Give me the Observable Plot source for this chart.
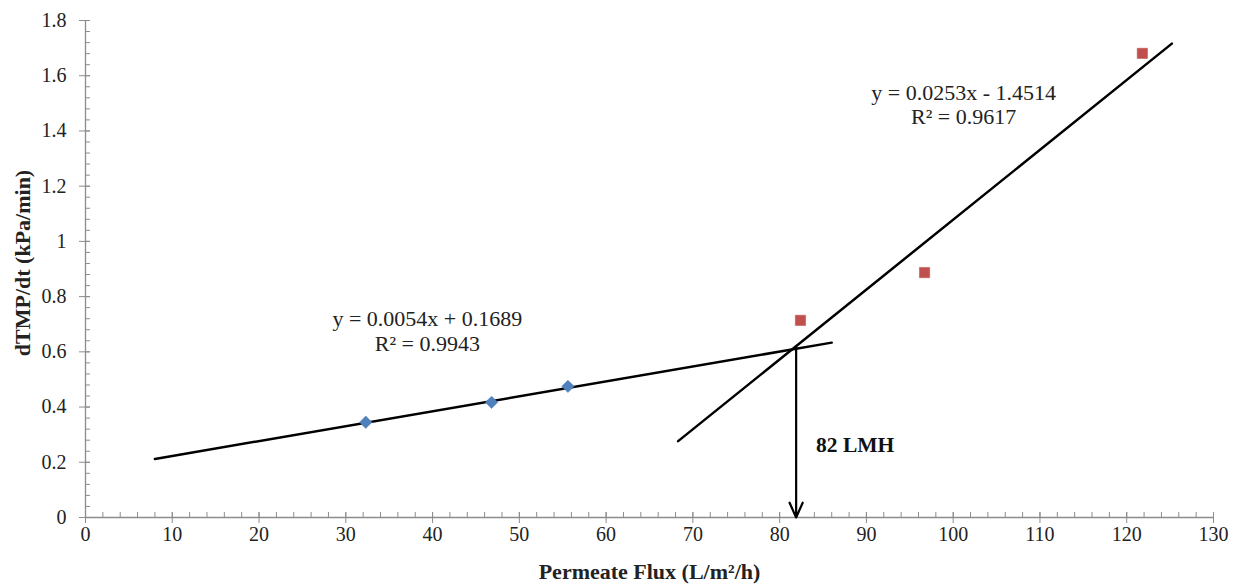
<!DOCTYPE html>
<html><head><meta charset="utf-8">
<script src="https://cdn.jsdelivr.net/npm/d3@7"></script>
<script src="https://cdn.jsdelivr.net/npm/@observablehq/plot@0.6"></script>
<style>
html,body{margin:0;padding:0;background:#fff;}
#chart svg{display:block;}
#chart svg text{font-family:'Liberation Serif','Times New Roman',serif;}
</style></head><body><div id="chart"></div>
<script>
// Series 1 (blue diamonds)
const flux1 = [32.3, 46.8, 55.6];
const dtmp1 = [0.345, 0.417, 0.475];
// Series 2 (red squares)
const flux2 = [82.4, 96.7, 121.8];
const dtmp2 = [0.714, 0.887, 1.681];
// Trend lines (slope, intercept, x-range)
const fit1 = {slope: 0.0054, intercept: 0.1689, x0: 8, x1: 86};
const fit2 = {slope: 0.0253, intercept: -1.4514, x0: 68.3, x1: 125.2};
const fitLabels = [
  {x: 39.4, y: 0.718, text: "y = 0.0054x + 0.1689"},
  {x: 39.4, y: 0.630, text: "R² = 0.9943"},
  {x: 101.2, y: 1.536, text: "y = 0.0253x - 1.4514"},
  {x: 101.2, y: 1.450, text: "R² = 0.9617"}
];
// Critical flux arrow
const critical = {x: 81.9, yTop: 0.62, label: "82 LMH", labelX: 84.2, labelY: 0.261};
// Axis ticks
const xMajor = d3.range(0, 131, 10);
const xMinor = d3.range(0, 131, 2);
const yMajor = [0, 0.2, 0.4, 0.6, 0.8, 1, 1.2, 1.4, 1.6, 1.8];
const yMinor = d3.range(0, 46).map(i => +(i * 0.04).toFixed(2));

const pts1 = flux1.map((x, i) => ({x, y: dtmp1[i]}));
const pts2 = flux2.map((x, i) => ({x, y: dtmp2[i]}));
const line = f => [f.x0, f.x1].map(x => ({x, y: f.slope * x + f.intercept}));

const axisColor = "#8c8c8c";
const font = "'Liberation Serif', 'Times New Roman', serif";

const chart = Plot.plot({
  width: 1247,
  height: 588,
  marginLeft: 85,
  marginRight: 34,
  marginTop: 20,
  marginBottom: 71,
  style: {fontFamily: font, fontSize: "19px", color: "#222", background: "#fff"},
  x: {domain: [0, 130], nice: false},
  y: {domain: [0, 1.8], nice: false},
  marks: [
    // axis lines
    Plot.ruleY([0], {stroke: axisColor, strokeWidth: 1.3}),
    Plot.ruleX([0], {stroke: axisColor, strokeWidth: 1.3}),
    // x ticks
    Plot.axisX({ticks: xMinor, tickSize: 5, dy: -5, text: null, label: null, stroke: axisColor}),
    Plot.axisX({ticks: xMajor, tickSize: 11, dy: -5, text: null, label: null, stroke: axisColor}),
    Plot.axisX({ticks: xMajor, tickSize: 0, tickPadding: 9, label: null, fill: "#222", fontSize: 20, fontFamily: font, tickFormat: d => String(d)}),
    // y ticks
    Plot.axisY({ticks: yMinor, tickSize: 5, dx: 5, text: null, label: null, stroke: axisColor}),
    Plot.axisY({ticks: yMajor, tickSize: 11, dx: 5, text: null, label: null, stroke: axisColor}),
    Plot.axisY({ticks: yMajor, tickSize: 0, tickPadding: 19, label: null, fill: "#222", fontSize: 20, fontFamily: font, tickFormat: d => String(+d.toFixed(1))}),
    // axis titles
    Plot.text(["Permeate Flux (L/m²/h)"], {frameAnchor: "bottom", dy: 61, fontWeight: "bold", fontSize: 22, fontFamily: font, fill: "#222"}),
    Plot.text(["dTMP/dt (kPa/min)"], {frameAnchor: "left", textAnchor: "middle", dx: -63, dy: -6, rotate: -90, fontWeight: "bold", fontSize: 22, fontFamily: font, fill: "#222"}),
    // trend lines
    Plot.line(line(fit1), {x: "x", y: "y", stroke: "#000", strokeWidth: 2.5}),
    Plot.line(line(fit2), {x: "x", y: "y", stroke: "#000", strokeWidth: 2.5}),
    // arrow
    Plot.arrow([critical], {x1: "x", x2: "x", y1: "yTop", y2: () => 0, stroke: "#000", strokeWidth: 2.2, headLength: 11, headAngle: 48, insetEnd: 0}),
    Plot.text([critical], {x: "labelX", y: "labelY", text: "label", textAnchor: "start", fontWeight: "bold", fontSize: 21.5, fontFamily: font, fill: "#111"}),
    // data points
    Plot.dot(pts1, {x: "x", y: "y", symbol: "diamond2", r: 5.6, fill: "#4f81bd", stroke: "#4f81bd", strokeWidth: 0.5}),
    Plot.dot(pts2, {x: "x", y: "y", symbol: "square", r: 5.8, fill: "#c0504d", stroke: "#c0504d", strokeWidth: 0.5}),
    // fit labels
    Plot.text(fitLabels, {x: "x", y: "y", text: "text", fontSize: 22, fontFamily: font, fill: "#222"})
  ]
});
document.getElementById("chart").appendChild(chart);
</script></body></html>
